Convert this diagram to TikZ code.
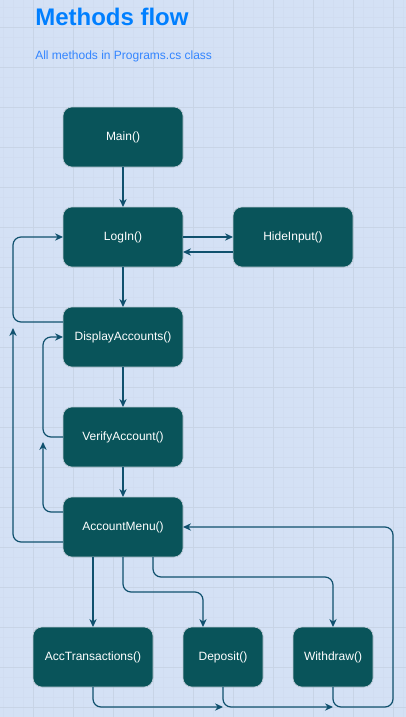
\documentclass[tikz,border=0pt]{standalone}
\usepackage{fontspec}
\setmainfont{Liberation Sans}
\usetikzlibrary{arrows.meta}

\definecolor{paper}{HTML}{D4E1F5}
\definecolor{gridminor}{HTML}{D1DDF1}
\definecolor{gridmajor}{HTML}{C8D4E6}
\definecolor{boxfill}{HTML}{09545A}
\definecolor{boxline}{HTML}{BAC8D3}
\definecolor{flowline}{HTML}{10516E}
\definecolor{titleblue}{HTML}{007FFF}
\definecolor{subblue}{HTML}{3385FF}

\begin{document}
\begin{tikzpicture}[x=0.75pt,y=-0.75pt,>={Stealth[length=6pt,width=5.5pt]},
	    method/.style={draw=boxline, line width=0.5pt, fill=boxfill, rounded corners=6.75pt,
	        minimum width=90pt, minimum height=45pt, outer sep=0pt, text=white, font=\fontsize{9pt}{11pt}\selectfont},
	    flow/.style={draw=flowline, line width=0.9pt, rounded corners=6pt, ->}]
	    
	    % Page and grid
	    \fill[paper] (0,0) rectangle (406,717);
	    \useasboundingbox (0,0) rectangle (406,717);
	    \foreach \gx in {3,13,...,403} \draw[gridminor, line width=0.3pt] (\gx,0) -- (\gx,717);
	    \foreach \gy in {7,17,...,717} \draw[gridminor, line width=0.3pt] (0,\gy) -- (406,\gy);
	    \foreach \gx in {33,73,...,393} \draw[gridmajor, line width=0.6pt] (\gx,0) -- (\gx,717);
	    \foreach \gy in {27,67,...,707} \draw[gridmajor, line width=0.6pt] (0,\gy) -- (406,\gy);
	    
	    % Title and subtitle
	    \node[anchor=base west, inner sep=0pt, text=titleblue, font=\bfseries\fontsize{18pt}{20pt}\selectfont] (title) at (35,26) {Methods flow};
	    \node[anchor=base west, inner sep=0pt, text=subblue, font=\fontsize{9pt}{11pt}\selectfont] (subtitle) at (35,60) {All methods in Programs.cs class};
	    
	    % Methods
	    \node[method] (main) at (123,137) {Main()};
	    \node[method] (login) at (123,237) {LogIn()};
	    \node[method] (hide) at (293,237) {HideInput()};
	    \node[method] (disp) at (123,337) {DisplayAccounts()};
	    \node[method] (verify) at (123,437) {VerifyAccount()};
	    \node[method] (menu) at (123,527) {AccountMenu()};
	    \node[method] (acct) at (93,657) {AccTransactions()};
	    \node[method, minimum width=60pt] (dep) at (223,657) {Deposit()};
	    \node[method, minimum width=60pt] (wd) at (333,657) {Withdraw()};
	    
	    % Free ends and bends
	    \coordinate (vtip) at (43,442);
	    \coordinate (ltip) at (13,328);
	    \coordinate (dtip) at (223,707);
	    \coordinate (wtip) at (333,707);
	    \coordinate (back) at (393,707);
	    
	    % Main -> LogIn <-> HideInput
	    \draw[flow] (main) -- (login);
	    \draw[flow] (login.east) -- (hide.west);
	    \draw[flow] ([yshift=-11.25pt]hide.west) -- ([yshift=-11.25pt]login.east);
	    
	    % LogIn -> DisplayAccounts -> VerifyAccount -> AccountMenu
	    \draw[flow] (login) -- (disp);
	    \draw[flow] (disp) -- (verify);
	    \draw[flow] (verify) -- (menu);
	    
	    % Loops back on the left
	    \draw[flow] ([yshift=11.25pt]disp.west) -| ([xshift=-37.5pt]login.west) -- (login.west);
	    \draw[flow] (verify.west) -| ([xshift=-15pt]disp.west) -- (disp.west);
	    \draw[flow] ([yshift=11.25pt]menu.west) -| (vtip);
	    \draw[flow] ([yshift=-11.25pt]menu.west) -| (ltip);
	    
	    % AccountMenu -> the three actions
	    \draw[flow] (acct.north |- menu.south) -- (acct.north);
	    \draw[flow] (menu.south) -- ++(0,35) -| ([xshift=-15pt]dep.north);
	    \draw[flow] ([xshift=22.5pt]menu.south) -- ++(0,20) -| (wd.north);
	    
	    % Actions back to AccountMenu
	    \draw[flow] (acct.south) |- (dtip);
	    \draw[flow] (dep.south) |- (wtip);
	    \draw[flow] (wd.south) |- (back) |- (menu.east);
	    
\end{tikzpicture}
\end{document}
